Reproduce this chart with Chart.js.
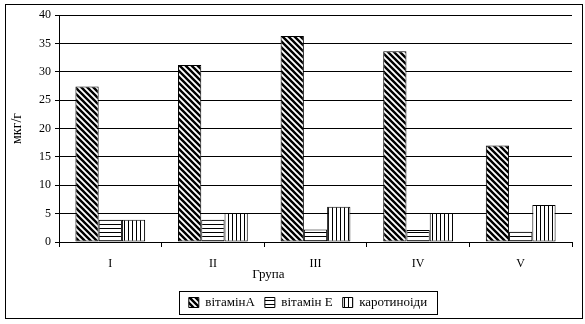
<!DOCTYPE html>
<html>
<head>
<meta charset="utf-8">
<script src="https://cdn.jsdelivr.net/npm/chart.js@4"></script>
<style>
  html, body { margin: 0; padding: 0; background: #fff; }
  #wrap { width: 585px; height: 324px; }
</style>
</head>
<body>
<div id="wrap"><canvas id="chart" width="585" height="324"></canvas></div>
<script>
const groups = ["I", "II", "III", "IV", "V"];
const vitaminA = [27.4, 31.2, 36.3, 33.6, 17.0];
const vitaminE = [3.9, 3.9, 2.2, 2.1, 1.8];
const carotenoids = [3.9, 5.1, 6.2, 5.1, 6.5];
const seriesNames = ["вітамінА", "вітамін Е", "каротиноіди"];
const xTitle = "Група";
const yTitle = "мкг/г";

const serif = "'Liberation Serif', 'Times New Roman', serif";
const legendShift = 22;

// small tiled canvases used as bar fills
function makePattern(kind) {
  const c = document.createElement("canvas");
  const s = kind === "diag" ? 6 : 4;
  c.width = s;
  c.height = s;
  const g = c.getContext("2d");
  g.fillStyle = "#fff";
  g.fillRect(0, 0, s, s);
  g.strokeStyle = "#000";
  if (kind === "diag") {
    g.lineWidth = 2.4;
    g.beginPath();
    for (let k = -s; k <= s; k += s) {
      g.moveTo(k - 1, -1);
      g.lineTo(k + s + 1, s + 1);
    }
    g.stroke();
  } else if (kind === "horiz") {
    g.lineWidth = 1;
    g.beginPath();
    g.moveTo(0, 0.5);
    g.lineTo(s, 0.5);
    g.stroke();
  } else {
    g.lineWidth = 1;
    g.beginPath();
    g.moveTo(0.5, 0);
    g.lineTo(0.5, s);
    g.stroke();
  }
  return g.createPattern(c, "repeat");
}

const fills = [makePattern("diag"), makePattern("horiz"), makePattern("vert")];

const frame = {
  id: "frame",
  afterLayout(chart) {
    // legend sits a bit right of centre in the original
    const lg = chart.legend;
    lg.left += legendShift;
    lg.right += legendShift;
    lg.legendHitBoxes.forEach((b) => { b.left += legendShift; });
  },
  beforeDraw(chart) {
    const ctx = chart.ctx;
    ctx.save();
    ctx.fillStyle = "#fff";
    ctx.fillRect(0, 0, chart.width, chart.height);
    ctx.strokeStyle = "#000";
    ctx.lineWidth = 1;
    ctx.strokeRect(5.5, 4.5, 577, 314);
    ctx.restore();
  },
  afterDraw(chart) {
    const boxes = chart.legend && chart.legend.legendHitBoxes;
    if (!boxes || !boxes.length) return;
    const left = Math.min(...boxes.map((b) => b.left));
    const right = Math.max(...boxes.map((b) => b.left + b.width));
    const top = boxes[0].top;
    const h = boxes[0].height;
    const ctx = chart.ctx;
    ctx.save();
    ctx.strokeStyle = "#000";
    ctx.lineWidth = 1;
    ctx.strokeRect(Math.round(left - 10) + 0.5, Math.round(top - 5) + 0.5, Math.round(right - left + 20), Math.round(h + 10));
    ctx.restore();
  }
};

const datasets = [vitaminA, vitaminE, carotenoids].map((data, i) => ({
  label: seriesNames[i],
  data: data,
  backgroundColor: fills[i],
  borderColor: "#000",
  borderWidth: 1,
  borderSkipped: false,
  barPercentage: 1,
  categoryPercentage: 0.68
}));

new Chart(document.getElementById("chart"), {
  type: "bar",
  data: { labels: groups, datasets: datasets },
  plugins: [frame],
  options: {
    responsive: false,
    animation: false,
    layout: { padding: { top: 15, right: 13, left: 0, bottom: 5 } },
    plugins: {
      tooltip: { enabled: false },
      legend: {
        position: "bottom",
        labels: {
          color: "#000",
          font: { family: serif, size: 13 },
          boxWidth: 10,
          boxHeight: 10,
          padding: 10
        }
      }
    },
    scales: {
      x: {
        afterFit: (s) => { s.height = 44; },
        border: { color: "#000", width: 1 },
        grid: { display: true, drawOnChartArea: false, offset: true, color: "#000", tickLength: 5 },
        ticks: { color: "#000", font: { family: serif, size: 12 }, padding: 10 },
        // trailing spaces pull the centred title left, as in the original
        title: { display: true, text: xTitle + " ".repeat(29), color: "#000", font: { family: serif, size: 13 }, padding: { top: 0, bottom: 4 } }
      },
      y: {
        min: 0,
        max: 40,
        afterFit: (s) => { s.width = 59; },
        border: { color: "#000", width: 1 },
        grid: { color: "#000", tickLength: 4 },
        ticks: { stepSize: 5, color: "#000", font: { family: serif, size: 12 }, padding: 4 },
        title: { display: true, text: yTitle, color: "#000", font: { family: serif, size: 14 }, padding: { top: 9, bottom: 0 } }
      }
    }
  }
});
</script>
</body>
</html>
